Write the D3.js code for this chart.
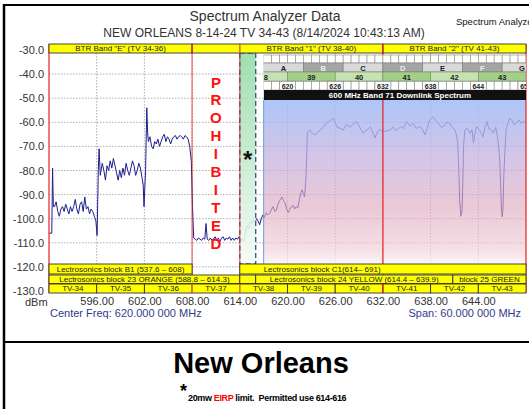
<!DOCTYPE html>
<html>
<head>
<meta charset="utf-8">
<script src="https://cdn.jsdelivr.net/npm/d3@7"></script>
<style>
body { margin: 0; background: #fff; }
svg { display: block; font-family: Arial, "Liberation Sans", sans-serif; }
</style>
</head>
<body>
<div id="chart"></div>
<script>
const W = 529, H = 409;

// axis ticks
const freqTicks = [596, 602, 608, 614, 620, 626, 632, 638, 644];
const dbmTicks = [-30, -40, -50, -60, -70, -80, -90, -100, -110, -120, -130];

// trace: [MHz, dBm]
const trace = [
  [590.0,-106],[590.35,-106],[590.45,-79],[590.55,-95],[590.7,-95],[590.9,-93],[591.1,-97],[591.3,-99],
  [591.5,-96],[591.7,-95],[591.9,-97],[592.1,-94],[592.3,-96],[592.5,-98],[592.7,-95],[592.9,-97],
  [593.1,-95],[593.3,-92],[593.5,-96],[593.7,-98],[593.9,-94],[594.1,-93],[594.3,-97],[594.5,-91],
  [594.7,-96],[594.9,-95],[595.1,-98],[595.3,-96],[595.5,-97],[595.7,-99],[595.9,-101],[596.05,-107],
  [596.2,-80],[596.3,-71],[596.45,-82],[596.7,-77],[596.9,-80],[597.1,-84],[597.3,-78],[597.5,-80],
  [597.7,-76],[597.9,-79],[598.1,-75],[598.3,-78],[598.5,-81],[598.7,-84],[598.9,-80],[599.1,-83],
  [599.3,-79],[599.5,-82],[599.7,-77],[599.9,-80],[600.1,-82],[600.3,-79],[600.5,-76],[600.7,-78],
  [600.9,-82],[601.1,-80],[601.3,-77],[601.5,-79],[601.7,-83],[601.85,-86],[601.95,-95],[602.15,-80],
  [602.3,-54],[602.4,-64],[602.5,-68],[602.7,-66],[602.9,-70],[603.1,-71],[603.3,-68],[603.5,-69],
  [603.7,-67],[603.9,-70],[604.1,-68],[604.3,-66],[604.5,-65],[604.7,-68],[604.9,-66],[605.1,-67],
  [605.3,-69],[605.5,-67],[605.7,-66],[605.9,-65.5],[606.1,-67],[606.3,-66],[606.5,-65.5],[606.7,-66],
  [606.9,-67],[607.1,-65.5],[607.3,-66],[607.5,-67],[607.7,-70],[607.9,-76],[608.05,-95],[608.2,-108],
  [608.4,-108.5],[608.6,-109],[608.8,-108],[609.0,-108.5],[609.2,-109],[609.4,-108],[609.6,-108.5],[609.75,-102],
  [609.9,-108.5],[610.1,-109],[610.3,-108],[610.5,-109],[610.7,-108.5],[610.9,-107.5],[611.1,-109],[611.3,-108],
  [611.5,-109.5],[611.7,-108],[611.9,-107.5],[612.1,-109],[612.3,-108],[612.5,-108.5],[612.7,-107.5],[612.9,-109],
  [613.1,-108],[613.3,-109],[613.5,-108],[613.7,-108.5],[613.9,-107.5],[614.1,-109],[614.3,-108.5],[614.5,-109.5],
  [614.7,-106],[614.9,-103],[615.1,-104],[615.3,-101],[615.5,-102],[615.7,-100.5],[615.9,-101.5],[616.1,-100],
  [616.3,-101],[616.5,-102.5],[616.7,-100],[616.9,-98.5],[617.1,-99.5],[617.3,-97.5],[617.5,-98.5],[617.8,-97.5],
  [618.0,-96],[618.2,-95],[618.4,-97],[618.6,-96.5],[618.8,-94],[619.0,-92.5],[619.3,-91],[619.5,-92.5],
  [619.7,-93.5],[619.9,-96],[620.1,-97.5],[620.3,-96],[620.5,-95],[620.7,-94.5],[620.9,-96],[621.1,-95],
  [621.3,-95.5],[621.5,-92],[621.7,-89],[621.85,-88],[622.0,-90],[622.15,-91],[622.3,-84],[622.4,-76],
  [622.5,-64],[622.8,-63.2],[623.1,-64.5],[623.5,-65.3],[623.8,-64],[624.1,-63.2],[624.5,-62],[624.9,-60.4],
  [625.3,-59.5],[625.8,-58.3],[626.2,-61.8],[626.6,-62.5],[627.0,-63.2],[627.4,-61],[627.9,-62],[628.3,-60.5],
  [628.7,-59.7],[629.1,-62],[629.5,-64.5],[630.0,-63],[630.4,-62],[630.7,-64],[631.0,-66.5],[631.3,-64],
  [631.6,-63],[632.0,-64],[632.5,-63.5],[632.9,-63.2],[633.3,-62],[633.7,-63.5],[634.2,-61.8],[634.6,-62.5],
  [635.0,-59.7],[635.4,-61.5],[635.8,-60.4],[636.2,-62.5],[636.7,-61.8],[637.0,-63],[637.3,-65.3],[637.6,-62],
  [637.9,-59],[638.3,-57.7],[638.7,-59.5],[639.0,-60.4],[639.3,-62],[639.6,-61.8],[640.0,-60],[640.4,-60.4],
  [640.8,-62.5],[641.1,-63.2],[641.4,-68],[641.55,-80],[641.65,-92],[641.8,-99],[641.95,-97],[642.05,-85],
  [642.15,-70],[642.3,-63.2],[642.6,-62.5],[643.0,-64.5],[643.2,-63],[643.4,-68.6],[643.6,-64],[643.8,-61.8],
  [644.1,-63],[644.3,-64],[644.6,-66],[644.85,-62],[645.1,-59.7],[645.3,-62.5],[645.6,-63],[645.9,-64.5],
  [646.2,-62],[646.4,-66],[646.55,-69.4],[646.7,-76],[646.8,-85],[646.9,-95],[647.0,-99.2],[647.1,-96],
  [647.2,-83],[647.35,-72],[647.5,-63],[647.75,-60],[648.0,-58.3],[648.3,-59.5],[648.5,-61],[648.8,-60.4],
  [649.1,-59],[649.4,-60.5],[649.7,-59.7],[650.0,-60]
];

// yellow label rows
const btrBands = [
  {label: 'BTR Band "E" (TV 34-36)', from: 590, to: 608},
  {label: '', from: 608, to: 614},
  {label: 'BTR Band "1" (TV 38-40)', from: 614, to: 632},
  {label: 'BTR Band "2" (TV 41-43)', from: 632, to: 650}
];
const lectroRow1 = [
  {label: "Lectrosonics block B1 (537.6 \u2013 608)", from: 590, to: 608},
  {label: "Lectrosonics block C1(614\u2013 691)", from: 614, to: 650}
];
const lectroRow2 = [
  {label: "Lectrosonics block 23 ORANGE (588.8 \u2013 614.3)", from: 590, to: 614},
  {label: "", from: 614, to: 616},
  {label: "Lectrosonics block 24 YELLOW (614.4 \u2013 639.9)", from: 616, to: 640.8},
  {label: "block 25 GREEN", from: 640.8, to: 650}
];
const tvChannels = ["TV-34","TV-35","TV-36","TV-37","TV-38","TV-39","TV-40","TV-41","TV-42","TV-43"];
const tvStart = 590;

// 600 MHz band 71 plan
const band71Blocks = ["A","B","C","D","E","F","G"];
const band71Start = 617;
const band71Channels = ["38","39","40","41","42","43"];
const band71Marks = [620, 626, 632, 638, 644, 650];

const redLines = [590, 608, 614, 632, 650];
const prohibited = "PROHIBITED".split("");

const x = d3.scaleLinear().domain([590, 650]).range([49, 526]);
const y = d3.scaleLinear().domain([-30, -130]).range([50, 291]);

const svg = d3.select("#chart").append("svg")
    .attr("width", W)
    .attr("height", H);

const defs = svg.append("defs");
let g71 = defs.append("linearGradient").attr("id", "band71").attr("x1", 0).attr("y1", 0).attr("x2", 0).attr("y2", 1);
[[0, "#9dbcf6", 0.85], [0.35, "#c6b2e0", 0.75], [0.65, "#e0abc2", 0.65], [0.9, "#efccd6", 0.65], [1, "#fbf1f4", 0.75]]
    .forEach(s => g71.append("stop").attr("offset", s[0]).attr("stop-color", s[1]).attr("stop-opacity", s[2]));
let gGreen = defs.append("linearGradient").attr("id", "green").attr("x1", 0).attr("y1", 0).attr("x2", 0).attr("y2", 1);
[[0, "#94dca8"], [0.5, "#c4ebcf"], [1, "#f6fcf7"]]
    .forEach(s => gGreen.append("stop").attr("offset", s[0]).attr("stop-color", s[1]));
defs.append("clipPath").attr("id", "tableClip").append("rect")
    .attr("x", x(617)).attr("y", 50).attr("width", x(650) - x(617)).attr("height", 55);

// frame
svg.append("line").attr("x1", 3).attr("x2", W).attr("y1", 5).attr("y2", 5).attr("stroke", "#000").attr("stroke-width", 2);
svg.append("line").attr("x1", 4).attr("x2", 4).attr("y1", 4).attr("y2", H).attr("stroke", "#000").attr("stroke-width", 2.5);
svg.append("line").attr("x1", 3).attr("x2", W).attr("y1", 342).attr("y2", 342).attr("stroke", "#000").attr("stroke-width", 2);

// titles
svg.append("text").attr("x", 265).attr("y", 21).attr("text-anchor", "middle")
    .style("font-size", "14px").attr("fill", "#333").text("Spectrum Analyzer Data");
svg.append("text").attr("x", 264).attr("y", 37).attr("text-anchor", "middle")
    .style("font-size", "12px").attr("fill", "#333").text("NEW ORLEANS 8-14-24 TV 34-43 (8/14/2024 10:43:13 AM)");
svg.append("text").attr("x", 456).attr("y", 25)
    .style("font-size", "9.5px").attr("fill", "#111").text("Spectrum Analyzer Data");

// grid
let grid = svg.append("g").attr("stroke", "#9a9a9a").attr("stroke-dasharray", "1.5,1.5").attr("stroke-width", 0.8);
grid.selectAll("line.v").data(freqTicks).enter().append("line")
    .attr("x1", d => x(d)).attr("x2", d => x(d)).attr("y1", 53).attr("y2", 284);
grid.selectAll("line.h").data(dbmTicks.filter(d => d < -30 && d > -130)).enter().append("line")
    .attr("x1", x(590)).attr("x2", x(650)).attr("y1", d => y(d)).attr("y2", d => y(d));

// trace
let line = d3.line().x(d => x(d[0])).y(d => y(d[1]));
svg.append("path").datum(trace)
    .attr("d", line)
    .attr("fill", "none")
    .attr("stroke", "#1e1e8e")
    .attr("stroke-width", 1);

// permitted strip 614-616
svg.append("rect")
    .attr("x", x(614)).attr("y", 53).attr("width", x(616) - x(614)).attr("height", 264 - 53)
    .attr("fill", "url(#green)").attr("fill-opacity", 0.9)
    .attr("stroke", "#3d5f86").attr("stroke-width", 1.4).attr("stroke-dasharray", "5,3");

// band 71 overlay
svg.append("rect")
    .attr("x", x(617)).attr("y", 100).attr("width", x(650) - x(617)).attr("height", 164)
    .attr("fill", "url(#band71)");
svg.append("line").attr("x1", x(617)).attr("x2", x(617)).attr("y1", 100).attr("y2", 264)
    .attr("stroke", "#6c9ee0").attr("stroke-width", 1);

// red dividers
svg.selectAll("line.red").data(redLines).enter().append("line")
    .attr("x1", d => x(d)).attr("x2", d => x(d)).attr("y1", 44).attr("y2", 293)
    .attr("stroke", "#e82020")
    .attr("stroke-opacity", d => (d == 608 || d == 614) ? 0.65 : 1)
    .attr("stroke-width", 1.2);

// band 71 table
let table = svg.append("g").attr("clip-path", "url(#tableClip)");
let cells = d3.range(band71Start, 651);
table.selectAll("rect.r1").data(cells).enter().append("rect")
    .attr("x", d => x(d)).attr("y", 55).attr("width", x(1) - x(0)).attr("height", 8)
    .attr("fill", "#fff").attr("stroke", "#8a8a8a").attr("stroke-width", 0.6);
table.selectAll("rect.r2").data(band71Blocks).enter().append("rect")
    .attr("x", (d, i) => x(band71Start + i * 5)).attr("y", 63).attr("width", x(5) - x(0)).attr("height", 9)
    .attr("fill", (d, i) => i % 2 ? "#a5a5a5" : "#d9d9d9").attr("stroke", "#7a7a7a").attr("stroke-width", 0.6);
table.selectAll("text.r2").data(band71Blocks).enter().append("text")
    .attr("x", (d, i) => x(band71Start + i * 5 + 2.5)).attr("y", 70.5).attr("text-anchor", "middle")
    .style("font-size", "7.5px").style("font-weight", "bold")
    .attr("fill", (d, i) => i % 2 ? "#eee" : "#222").text(d => d);
table.selectAll("rect.r3").data(band71Channels).enter().append("rect")
    .attr("x", (d, i) => x(614 + i * 6)).attr("y", 72).attr("width", x(6) - x(0)).attr("height", 9)
    .attr("fill", (d, i) => i % 2 ? "#a3cf8a" : "#c6e2b5").attr("stroke", "#6f8f5f").attr("stroke-width", 0.6);
table.selectAll("text.r3").data(band71Channels).enter().append("text")
    .attr("x", (d, i) => x(617 + i * 6)).attr("y", 79.5).attr("text-anchor", "middle")
    .style("font-size", "7.5px").style("font-weight", "bold").attr("fill", "#222").text(d => d);
table.selectAll("rect.r4").data(cells).enter().append("rect")
    .attr("x", d => x(d)).attr("y", 81.5).attr("width", x(1) - x(0)).attr("height", 8.5)
    .attr("fill", "#fff").attr("stroke", "#8a8a8a").attr("stroke-width", 0.6);
table.selectAll("rect.r4l").data(band71Marks).enter().append("rect")
    .attr("x", d => x(d - 1)).attr("y", 81.5).attr("width", x(2) - x(0)).attr("height", 8.5)
    .attr("fill", "#fff").attr("stroke", "#8a8a8a").attr("stroke-width", 0.6);
table.selectAll("text.r4").data(band71Marks).enter().append("text")
    .attr("x", d => x(d)).attr("y", 88.5).attr("text-anchor", "middle")
    .style("font-size", "7px").style("font-weight", "bold").attr("fill", "#222").text(d => d);
table.append("rect").attr("x", x(617)).attr("y", 90).attr("width", x(650) - x(617)).attr("height", 10)
    .attr("fill", "#111");
table.append("text").attr("x", 400).attr("y", 97.8).attr("text-anchor", "middle")
    .style("font-size", "8px").style("font-weight", "bold").attr("fill", "#fff")
    .text("600 MHz Band 71 Downlink Spectrum");

// yellow rows
function yellowRow(data, y0, y1, anchor) {
    let g = svg.append("g");
    g.selectAll("rect").data(data).enter().append("rect")
        .attr("x", d => x(d.from)).attr("y", y0).attr("width", d => x(d.to) - x(d.from)).attr("height", y1 - y0)
        .attr("fill", "#ffff00").attr("stroke", "#333").attr("stroke-width", 0.9);
    g.selectAll("text").data(data).enter().append("text")
        .attr("x", d => anchor && anchor(d) ? x(617) : x((d.from + d.to) / 2))
        .attr("y", y1 - 2)
        .attr("text-anchor", d => anchor && anchor(d) ? "start" : "middle")
        .style("font-size", "8px").attr("fill", "#222")
        .text(d => d.label);
    return g;
}
yellowRow(btrBands, 44, 53);
yellowRow(lectroRow1, 264, 274, d => d.from == 614);
yellowRow(lectroRow2, 275, 283.5);
let tvData = tvChannels.map((d, i) => ({label: d, from: tvStart + i * 6, to: tvStart + i * 6 + 6}));
yellowRow(tvData, 284, 293);

// coloured dividers on the band rows
const rowDividers = [[608, 44, 53, "#e82020"], [614, 44, 53, "#f08020"], [632, 44, 53, "#e82020"],
                     [608, 284, 293, "#f08020"], [614, 284, 293, "#f08020"], [632, 284, 293, "#e82020"]];
svg.selectAll("line.rd").data(rowDividers).enter().append("line")
    .attr("x1", d => x(d[0])).attr("x2", d => x(d[0])).attr("y1", d => d[1]).attr("y2", d => d[2])
    .attr("stroke", d => d[3]).attr("stroke-width", 1.3);

// PROHIBITED
let py = d3.scalePoint().domain(d3.range(prohibited.length)).range([82, 243]);
svg.selectAll("text.pro").data(prohibited).enter().append("text")
    .attr("x", x(611)).attr("y", (d, i) => py(i) + 5.5).attr("text-anchor", "middle")
    .style("font-size", "15px").style("font-weight", "bold").attr("fill", "#ff1010").text(d => d);
svg.append("text").attr("x", x(615)).attr("y", 168).attr("text-anchor", "middle")
    .style("font-size", "24px").style("font-weight", "bold").attr("fill", "#111").text("*");

// axes
let yAxis = svg.append("g").attr("transform", `translate(${x(590)},0)`)
    .call(d3.axisLeft(y).tickValues(dbmTicks).tickFormat(d => d.toFixed(1)).tickSize(0).tickPadding(5));
yAxis.select(".domain").remove();
yAxis.selectAll("text").style("font-size", "11px").style("font-family", "Arial, 'Liberation Sans', sans-serif").attr("fill", "#333");

let xAxis = svg.append("g").attr("transform", "translate(0,293)")
    .call(d3.axisBottom(x).tickValues(freqTicks).tickFormat(d => d.toFixed(2)).tickSize(0).tickPadding(4));
xAxis.select(".domain").remove();
xAxis.selectAll("text").style("font-size", "11px").style("font-family", "Arial, 'Liberation Sans', sans-serif").attr("fill", "#333");

svg.append("text").attr("x", 25).attr("y", 306).style("font-size", "11px").attr("fill", "#333").text("dBm");
svg.append("text").attr("x", 50).attr("y", 317).style("font-size", "11px").attr("fill", "#333a8c")
    .text("Center Freq: 620.000 000 MHz");
svg.append("text").attr("x", 521).attr("y", 317).attr("text-anchor", "end").style("font-size", "11px").attr("fill", "#333a8c")
    .text("Span: 60.000 000 MHz");

// caption
svg.append("text").attr("x", 261).attr("y", 373).attr("text-anchor", "middle")
    .style("font-size", "29px").style("font-weight", "bold").attr("fill", "#000").text("New Orleans");
svg.append("text").attr("x", 180).attr("y", 397)
    .style("font-size", "18px").style("font-weight", "bold").attr("fill", "#000").text("*");
let note = svg.append("text").attr("x", 188).attr("y", 401)
    .style("font-size", "9px").style("font-weight", "bold").style("letter-spacing", "-0.35px").attr("fill", "#000");
note.append("tspan").text("20mw ");
note.append("tspan").attr("fill", "#ff0000").text("EIRP");
note.append("tspan").text(" limit.\u00a0 Permitted use 614-616");
</script>
</body>
</html>
